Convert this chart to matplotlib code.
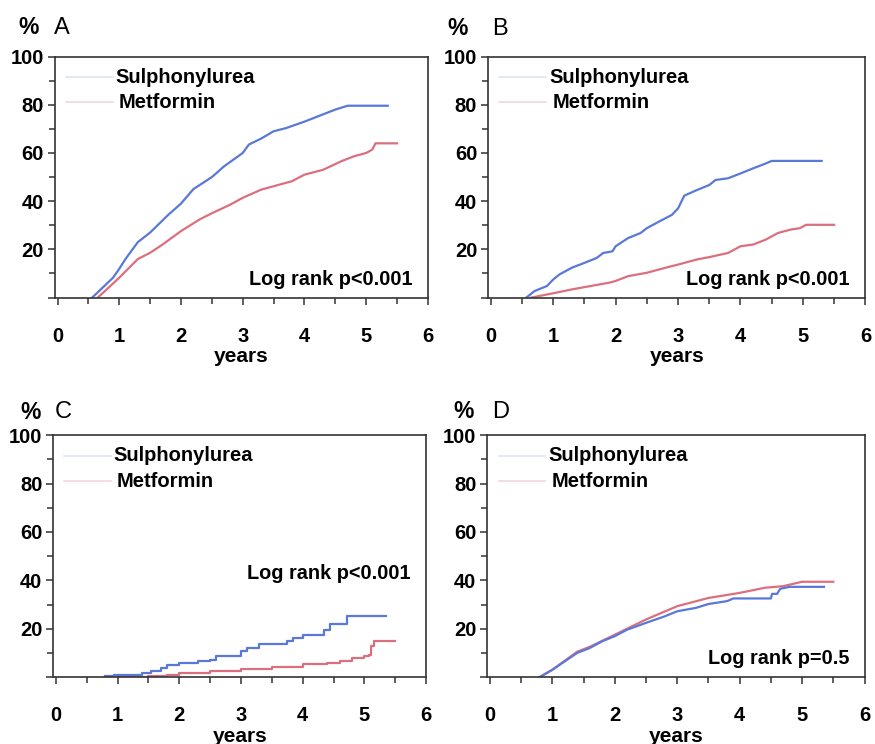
import matplotlib
matplotlib.use('Agg')
from matplotlib import pyplot as plt
from matplotlib.ticker import MultipleLocator

# panel A
a_su_t = [0.56, 0.7, 0.9, 1.0, 1.1, 1.3, 1.5, 1.8, 2.0, 2.2, 2.5, 2.7, 3.0, 3.1, 3.3, 3.5, 3.7, 4.0, 4.3, 4.5, 4.7, 5.0, 5.35]
a_su_v = [0, 3.4, 8.3, 12, 16, 23, 27, 34.5, 39, 45, 50, 54.5, 60, 63.5, 66, 69, 70.3, 73, 76, 78, 79.6, 79.6, 79.6]
a_mf_t = [0.65, 0.8, 1.0, 1.3, 1.5, 1.7, 2.0, 2.3, 2.5, 2.8, 3.0, 3.3, 3.6, 3.8, 4.0, 4.3, 4.6, 4.8, 5.0, 5.1, 5.15, 5.5]
a_mf_v = [0, 3.5, 8.3, 16, 18.6, 22, 27.6, 32.4, 35, 38.6, 41.4, 44.8, 46.9, 48.3, 51, 53, 56.6, 58.6, 60, 61.4, 64, 64]

# panel B
b_su_t = [0.57, 0.7, 0.9, 1.0, 1.1, 1.3, 1.5, 1.7, 1.8, 1.95, 2.0, 2.2, 2.4, 2.5, 2.7, 2.9, 3.0, 3.1, 3.3, 3.5, 3.6, 3.8, 4.0, 4.2, 4.4, 4.5, 5.3]
b_su_v = [0, 2.7, 4.8, 7.5, 9.6, 12.4, 14.4, 16.5, 18.5, 19.2, 21.3, 24.7, 26.8, 28.8, 31.6, 34.3, 37, 42.3, 44.6, 46.7, 48.8, 49.5, 51.5, 53.6, 55.6, 56.7, 56.7]
b_mf_t = [0.65, 1.0, 1.3, 1.6, 1.9, 2.0, 2.2, 2.5, 2.8, 3.0, 3.3, 3.5, 3.8, 4.0, 4.2, 4.4, 4.6, 4.8, 4.95, 5.05, 5.5]
b_mf_v = [0, 1.8, 3.4, 4.8, 6.2, 6.9, 8.9, 10.3, 12.4, 13.7, 15.8, 16.8, 18.5, 21.3, 22, 24, 26.8, 28.2, 28.8, 30.2, 30.2]

# panel C (steps)
c_su_t = [0.8, 0.95, 1.4, 1.55, 1.7, 1.8, 2.0, 2.3, 2.5, 2.6, 3.0, 3.1, 3.3, 3.75, 3.85, 4.0, 4.35, 4.45, 4.72, 5.35]
c_su_v = [0.3, 1.0, 1.7, 2.3, 3.7, 5.1, 5.7, 6.5, 7.2, 8.6, 10.9, 12.0, 13.7, 14.8, 16.2, 17.5, 19.6, 22.0, 25.1, 25.1]
c_mf_t = [1.0, 1.5, 1.8, 2.0, 2.5, 3.0, 3.5, 4.0, 4.4, 4.6, 4.8, 5.0, 5.07, 5.1, 5.15, 5.5]
c_mf_v = [0, 0.3, 1.0, 1.7, 2.3, 3.3, 4.1, 5.4, 5.8, 6.8, 7.9, 8.6, 9.3, 12.7, 14.8, 14.8]

# panel D
d_su_t = [0.8, 1.0, 1.2, 1.4, 1.6, 1.8, 2.0, 2.2, 2.5, 2.8, 3.0, 3.3, 3.5, 3.8, 3.9, 4.5, 4.52, 4.6, 4.65, 4.8, 5.35]
d_su_v = [0, 3, 6.5, 10, 12, 14.8, 16.9, 19.6, 22.4, 25.1, 27.2, 28.6, 30.2, 31.4, 32.5, 32.5, 34.4, 34.4, 36.5, 37.3, 37.3]
d_mf_t = [0.8, 1.0, 1.4, 1.6, 2.0, 2.5, 3.0, 3.5, 4.0, 4.4, 4.7, 4.85, 5.0, 5.5]
d_mf_v = [0, 3, 10.5, 12.5, 17.5, 23.8, 29.3, 32.7, 34.8, 36.9, 37.6, 38.5, 39.4, 39.4]

letters = ['A', 'B', 'C', 'D']
logrank = ['Log rank p<0.001', 'Log rank p<0.001', 'Log rank p<0.001', 'Log rank p=0.5']

panels = [
    (a_su_t, a_su_v, a_mf_t, a_mf_v, 7.5, False),
    (b_su_t, b_su_v, b_mf_t, b_mf_v, 7.5, False),
    (c_su_t, c_su_v, c_mf_t, c_mf_v, 43, True),
    (d_su_t, d_su_v, d_mf_t, d_mf_v, 7.5, False),
]

boxes = [
    [0.063, 0.600, 0.426, 0.324],
    [0.558, 0.600, 0.431, 0.324],
    [0.061, 0.090, 0.426, 0.325],
    [0.557, 0.090, 0.431, 0.325],
]
# (x of %, x of letter, y) in axes fraction
heads = [(-0.072, 0.019, 1.12), (-0.082, 0.032, 1.115), (-0.062, 0.027, 1.095), (-0.064, 0.035, 1.097)]

blue = '#5a78d8'
red = '#dc6f7e'

plt.rcParams['font.family'] = ['Liberation Sans', 'DejaVu Sans']
fig = plt.figure(figsize=(8.75, 7.44), dpi=100)

for box, head, name, lr, (su_t, su_v, mf_t, mf_v, lr_y, steps) in zip(boxes, heads, letters, logrank, panels):
    ax = fig.add_axes(box)
    ds = 'steps-post' if steps else 'default'
    ax.plot(mf_t, mf_v, color=red, lw=1.6, drawstyle=ds)
    ax.plot(su_t, su_v, color=blue, lw=1.6, drawstyle=ds)
    ax.set_xlim(-0.04, 6)
    ax.set_ylim(0, 100)
    ax.xaxis.set_major_locator(MultipleLocator(1))
    ax.xaxis.set_minor_locator(MultipleLocator(0.5))
    ax.yaxis.set_minor_locator(MultipleLocator(10))
    ax.set_yticks([0, 20, 40, 60, 80, 100])
    ax.set_yticklabels(['', '20', '40', '60', '80', '100'])
    ax.tick_params(which='both', direction='out', colors='#333333', width=1.1)
    ax.tick_params(which='major', length=5, labelsize=14.5, labelcolor='black', pad=3)
    ax.tick_params(which='minor', length=4)
    ax.tick_params(axis='x', which='major', pad=16)
    for lab in ax.get_xticklabels() + ax.get_yticklabels():
        lab.set_fontweight('bold')
    for sp in ax.spines.values():
        sp.set_color('#333333')
        sp.set_linewidth(1.2)
    ax.set_xlabel('years', fontsize=15, fontweight='bold', labelpad=1)

    # legend
    ax.plot([0.14, 0.89], [91.5, 91.5], color='#dfe4f2', lw=1.2)
    ax.plot([0.14, 0.89], [81, 81], color='#f4d6da', lw=1.2)
    ax.text(0.94, 91.5, 'Sulphonylurea', fontsize=14.5, fontweight='bold', va='center')
    ax.text(0.99, 81, 'Metformin', fontsize=14.5, fontweight='bold', va='center')

    ax.text(5.75, lr_y, lr, fontsize=14.3, fontweight='bold', ha='right', va='center')

    ax.text(head[0], head[2], '%', transform=ax.transAxes, fontsize=16.5, fontweight='bold',
            ha='center', va='center')
    ax.text(head[1], head[2], name, transform=ax.transAxes, fontsize=17,
            ha='center', va='center')

plt.savefig('out.png', dpi=100)
